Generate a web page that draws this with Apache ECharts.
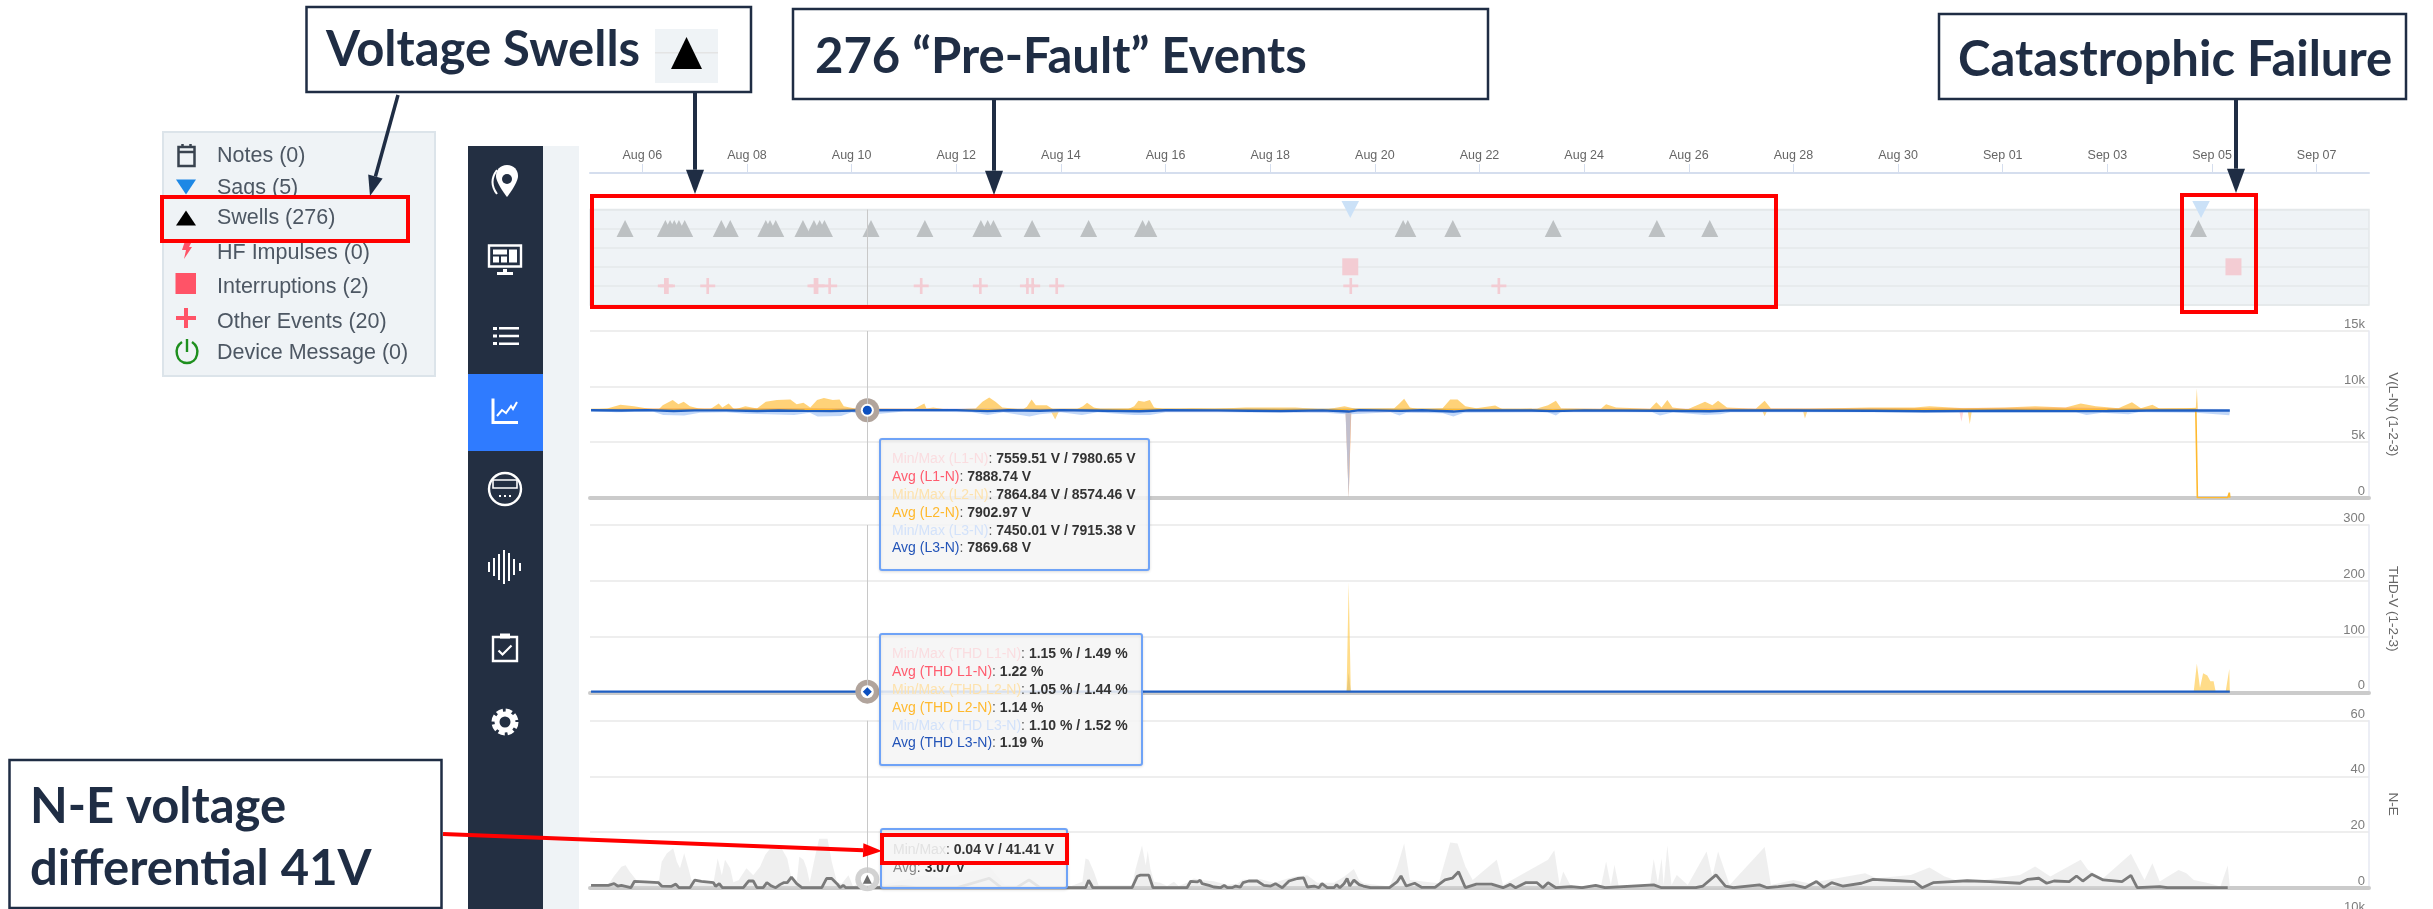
<!DOCTYPE html>
<html>
<head>
<meta charset="utf-8">
<title>Pre-fault events</title>
<style>
  html, body { margin: 0; padding: 0; background: #fff; }
  #main { width: 2433px; height: 909px; }
</style>
<script src="https://cdn.jsdelivr.net/npm/echarts@6/dist/echarts.min.js"></script>
</head>
<body>
<div id="main"></div>
<script>
// all x values are days counted from Aug 01 (Aug 32 = Sep 01)
var tickDays = [6, 8, 10, 12, 14, 16, 18, 20, 22, 24, 26, 28, 30, 32, 34, 36, 38];
var tickLabels = ["Aug 06", "Aug 08", "Aug 10", "Aug 12", "Aug 14", "Aug 16", "Aug 18", "Aug 20", "Aug 22",
  "Aug 24", "Aug 26", "Aug 28", "Aug 30", "Sep 01", "Sep 03", "Sep 05", "Sep 07"];
var cursorDay = 10.3;

// event rows: 0 sags, 1 swells, 2 HF impulses, 3 interruptions, 4 other
var sagDays = [19.53, 35.79];
var swellDays = [5.67, 6.44, 6.53, 6.61, 6.70, 6.81, 7.51, 7.68, 8.36, 8.44, 8.55, 9.07, 9.28, 9.39, 9.48, 10.37,
  11.40, 12.47, 12.60, 12.71, 13.45, 14.53, 15.56, 15.68, 20.54, 20.63, 21.49, 23.41, 25.39, 26.40, 35.74];
var interruptionDays = [19.53, 36.41];
var otherDays = [6.44, 6.48, 7.25, 9.30, 9.34, 9.58, 11.33, 12.46, 13.36, 13.46, 13.92, 19.54, 22.37];

// V(L-N)
var l2Max = [[5.02, 7940], [5.33, 8030], [5.58, 8360], [5.84, 8240], [6.10, 8030], [6.31, 7940], [6.39, 8330], [6.58, 8780],
  [6.69, 8420], [6.79, 8630], [6.91, 8240], [7.08, 8030], [7.29, 7940], [7.46, 8480], [7.53, 8120], [7.65, 8480], [7.76, 7940],
  [7.97, 8240], [8.19, 8030], [8.36, 8630], [8.57, 8780], [8.83, 8840], [8.95, 8420], [9.08, 8540], [9.21, 8120], [9.34, 8780],
  [9.47, 8960], [9.64, 8780], [9.77, 8840], [9.85, 8240], [10.06, 8030], [10.28, 7940], [10.79, 7940], [11.17, 7940], [11.39, 8480],
  [11.43, 8030], [11.56, 8120], [11.81, 7940], [12.37, 8030], [12.50, 8630], [12.63, 9020], [12.75, 8630], [12.88, 8120],
  [13.27, 7940], [13.35, 8180], [13.44, 8840], [13.52, 8330], [13.61, 8330], [13.73, 8330], [13.86, 7940], [14.29, 7940],
  [14.42, 8240], [14.50, 8540], [14.63, 8120], [14.80, 7940], [15.27, 7940], [15.40, 8240], [15.48, 8720], [15.59, 8630],
  [15.70, 8780], [15.78, 8120], [16.00, 7940], [16.51, 8030], [16.94, 8000], [17.53, 8120], [18.05, 8120], [18.48, 8120],
  [19.06, 7940], [19.42, 8240], [19.63, 8000], [20.36, 8000], [20.47, 8480], [20.56, 8900], [20.67, 8120], [20.86, 7940],
  [21.29, 8030], [21.44, 8840], [21.58, 8840], [21.73, 8240], [21.94, 8060], [22.30, 8300], [22.45, 7940], [23.10, 8030],
  [23.31, 8330], [23.46, 8720], [23.56, 8060], [24.32, 8000], [24.42, 8420], [24.61, 8120], [25.26, 8000], [25.38, 8600],
  [25.48, 8120], [25.59, 8780], [25.69, 8120], [25.98, 7970], [26.31, 8630], [26.45, 8330], [26.56, 8720], [26.73, 8120],
  [27.28, 8000], [27.45, 8720], [27.57, 8030], [28.29, 8000], [29.45, 8120], [30.31, 8120], [30.60, 8240], [31.25, 8060],
  [32.04, 8120], [32.62, 8240], [33.20, 8120], [33.49, 8480], [33.78, 8240], [34.21, 8060], [34.47, 8600], [34.64, 8060],
  [34.86, 8360], [35.00, 8000], [35.51, 8060], [35.69, 8100], [35.71, 9830], [35.73, 7880]];
var l2Min = [[5.02, 7850], [13.80, 7850], [13.89, 7040], [13.97, 7850], [19.44, 7800], [19.50, 0], [19.55, 7800], [27.40, 7850],
  [27.45, 7340], [27.50, 7850], [28.18, 7850], [28.22, 7130], [28.27, 7850], [31.33, 7850], [31.37, 6620], [31.41, 7850], [35.71, 7850]];
var l2Avg = [[5.02, 7930], [9.00, 7950], [12.00, 7920], [15.60, 7950], [19.00, 7940], [20.50, 7950], [23.00, 7930], [27.00, 7920],
  [30.00, 7950], [33.00, 7960], [35.69, 7950], [35.72, 0], [36.30, 0], [36.33, 450], [36.34, 0]];
var l3Max = [[5.02, 7950], [10.00, 8000], [15.00, 8000], [20.00, 8020], [25.00, 7990], [30.00, 8000], [36.34, 8000]];
var l3Min = [[5.02, 7800], [5.50, 7700], [6.20, 7750], [6.40, 7450], [6.80, 7400], [7.10, 7650], [7.60, 7700], [8.00, 7550], [8.40, 7500],
  [8.90, 7450], [9.20, 7650], [9.35, 7300], [9.80, 7350], [10.00, 7700], [10.29, 7450], [11.00, 7750], [12.30, 7700], [12.60, 7450],
  [12.90, 7700], [13.40, 7300], [13.60, 7500], [14.00, 7700], [14.40, 7450], [14.70, 7700], [15.40, 7450], [15.70, 7450], [16.00, 7700],
  [17.00, 7700], [19.06, 7650], [19.44, 7500], [19.50, 0], [19.54, 7500], [20.30, 7700], [20.47, 7400], [20.60, 7650], [21.30, 7600],
  [21.50, 7300], [21.70, 7650], [23.30, 7700], [23.46, 7400], [23.55, 7700], [25.30, 7700], [25.45, 7400], [25.70, 7700], [26.30, 7450],
  [26.60, 7500], [26.80, 7700], [29.00, 7700], [31.00, 7700], [33.40, 7700], [33.60, 7450], [33.90, 7650], [34.40, 7500], [34.60, 7700],
  [35.70, 7650], [36.33, 7420], [36.34, 7700]];
var l3Avg = [[5.02, 7870], [5.60, 7850], [6.10, 7880], [6.60, 7800], [7.00, 7860], [7.60, 7860], [8.20, 7800], [8.60, 7850], [9.10, 7810],
  [9.60, 7790], [10.29, 7870], [11.00, 7880], [12.00, 7880], [12.60, 7790], [13.00, 7870], [13.60, 7830], [14.00, 7880], [14.50, 7850],
  [15.50, 7780], [16.00, 7870], [17.00, 7860], [17.60, 7830], [18.20, 7800], [19.00, 7860], [19.50, 7750], [19.70, 7880], [20.50, 7810],
  [20.90, 7870], [21.50, 7750], [21.80, 7860], [23.00, 7850], [23.40, 7790], [24.00, 7860], [25.50, 7830], [26.40, 7780], [26.80, 7860],
  [28.00, 7850], [29.50, 7820], [30.50, 7780], [32.00, 7830], [33.50, 7790], [34.00, 7800], [34.50, 7830], [35.00, 7860], [36.34, 7840]];
var l1Min = [[5.02, 7820], [19.44, 7700], [19.50, 0], [19.55, 7700], [31.17, 7800], [31.21, 6830], [31.25, 7800], [36.34, 7800]];
var l1Max = [[5.02, 7950], [6.10, 8050], [8.80, 8060], [15.00, 7980], [22.00, 7990], [29.00, 8060], [33.40, 8120], [35.00, 8000], [36.34, 7950]];
var vCursor = 7869.68;

// THD-V
var thdL2Max = [[5.02, 1.5], [19.46, 1.5], [19.50, 198], [19.54, 1.5], [35.65, 1.5], [35.71, 51], [35.77, 8], [35.83, 34], [35.91, 30],
  [35.97, 20], [36.03, 20], [36.07, 1], [36.26, 1], [36.33, 42], [36.34, 1]];
var thdL3Max = [[5.02, 1.5], [19.46, 1.5], [19.50, 35], [19.54, 1.5], [36.34, 1.5]];
var thdL3Avg = [[5.02, 1.2], [10.29, 1.19], [19.50, 1.3], [28.00, 1.2], [36.34, 1.2]];
var thdCursor = 1.19;

// N-E
var neMax = [[5.02, 0.5], [5.35, 1.1], [5.45, 3.9], [5.60, 7.5], [5.68, 8.1], [5.76, 5.7], [5.89, 2.7], [6.02, 2.1], [6.21, 1.8], [6.32, 2.7], [6.37, 9.3],
  [6.47, 12.4], [6.59, 14.2], [6.66, 9.3], [6.72, 7], [6.80, 12.4], [6.88, 7], [6.94, 2.7], [7.36, 1.8], [7.44, 10.5], [7.52, 4.5], [7.58, 10], [7.68, 7],
  [7.74, 2], [7.84, 2.7], [7.99, 7], [8.12, 4.5], [8.25, 7.5], [8.35, 11.8], [8.44, 14], [8.66, 14.2], [8.77, 10.5], [8.85, 3.3], [8.95, 2], [9.00, 11.1],
  [9.08, 10], [9.14, 7], [9.20, 2], [9.30, 11.1], [9.38, 17.6], [9.54, 17.6], [9.62, 9.3], [9.72, 2], [9.81, 1.45], [9.94, 4.5], [10.03, 0.3], [10.29, 4],
  [10.40, 0.5], [10.57, 1], [11.41, 4.6], [11.71, 3.4], [12.63, 7.6], [12.93, 1], [14.15, 0.25], [14.41, 2.1], [14.47, 10.5], [14.53, 10], [14.63, 5.7],
  [14.72, 0.85], [15.36, 0.85], [15.43, 6.9], [15.55, 15.2], [15.62, 8.1], [15.66, 13.2], [15.71, 6.9], [15.78, 2.1], [15.90, 1.8], [16.03, 0.6], [16.16, 2.1],
  [16.25, 0.6], [16.41, 1.8], [16.54, 3.3], [16.73, 2.7], [16.92, 2.3], [17.18, 1.1], [17.37, 1.45], [17.47, 2.9], [17.82, 3], [18.07, 1.8], [18.45, 3.9],
  [18.71, 4.5], [18.90, 1.8], [19.22, 1.8], [19.41, 3.9], [19.60, 6.7], [19.70, 2.7], [19.78, 1.6], [20.28, 0.4], [20.43, 7.6], [20.56, 15.9], [20.67, 2.8],
  [21.22, 1.6], [21.44, 16.2], [21.58, 15.9], [21.73, 7.6], [21.87, 2.8], [22.33, 10], [22.45, 1], [23.31, 10], [23.43, 13.5], [23.53, 1], [23.60, 5.8],
  [23.75, 0.4], [24.32, 0.4], [24.42, 9.4], [24.51, 1], [24.58, 8.2], [24.66, 0.6], [25.26, 1], [25.33, 10.3], [25.41, 1.6], [25.48, 10.6], [25.52, 1],
  [25.59, 15.2], [25.67, 1], [25.77, 4.6], [25.98, 1], [26.34, 13], [26.45, 4], [26.56, 13], [26.78, 1], [27.45, 14.6], [27.57, 1], [28.00, 2.8], [28.29, 1.6],
  [29.37, 5.2], [29.59, 3.4], [30.24, 4.6], [30.60, 7.3], [30.89, 4], [31.25, 1.8], [32.33, 4.6], [32.62, 7.6], [32.91, 4], [33.49, 10], [33.63, 6.4], [33.92, 3.4],
  [34.45, 12.2], [34.61, 6.4], [34.71, 2.8], [34.86, 8.8], [35.00, 2.2], [35.36, 6.4], [35.51, 5.2], [35.65, 2.8], [35.94, 1.6], [36.16, 0.4],
  [36.30, 8], [36.34, 0.4]];
var neAvg = [[5.02, 0.85], [5.35, 0.85], [5.46, 1.45], [5.53, 0.6], [5.60, 0.85], [5.78, 0], [5.85, 2.3], [6.05, 2.1], [6.31, 1.8], [6.37, 0.6], [6.56, 0.5],
  [6.64, 1.3], [6.70, 0], [6.91, 0], [7.00, 2.7], [7.13, 2.3], [7.36, 1.8], [7.40, 0.5], [7.47, 1.45], [7.53, 0], [7.93, 0], [8.03, 2.4], [8.12, 2.4], [8.19, 0],
  [8.31, 0], [8.38, 1.8], [8.47, 0.6], [8.55, 0], [8.63, 1.1], [8.70, 1.8], [8.77, 1.8], [8.85, 3.8], [8.95, 1.45], [9.05, 0], [9.43, 0], [9.52, 3.3], [9.62, 3.3],
  [9.72, 1.45], [9.78, 0], [9.84, 0.85], [9.89, 0], [10.23, 0], [10.30, 3.07], [10.35, 0], [10.51, 0], [10.95, 0.4], [11.25, 0], [12.02, 0], [12.63, 3.4], [12.86, 0],
  [13.16, 0.1], [13.39, 2.8], [13.60, 0], [14.47, 0], [14.53, 2.7], [14.61, 0], [15.36, 0], [15.46, 4.1], [15.52, 4.5], [15.68, 4.5], [15.76, 0], [16.41, 0],
  [16.48, 2.3], [16.61, 2.1], [16.66, 2.7], [16.70, 1.45], [16.83, 0.85], [16.92, 0.25], [17.05, 0], [17.12, 0.85], [17.18, 0], [17.27, 0], [17.34, 0.6], [17.43, 0.25],
  [17.48, 1.8], [17.59, 2.4], [17.75, 2.4], [17.88, 0.85], [18.01, 0.6], [18.10, 1.45], [18.23, 0], [18.36, 2.4], [18.52, 3.3], [18.64, 3.5], [18.71, 0.25],
  [18.84, 0.6], [18.93, 0], [18.99, 1.45], [19.09, 0], [19.22, 0], [19.27, 1.1], [19.33, 0], [19.41, 1.45], [19.47, 3.3], [19.52, 0.6], [19.60, 2.7], [19.70, 1.1],
  [19.78, 0.6], [19.92, 0], [20.28, 0], [20.43, 2.2], [20.50, 4.2], [20.60, 0.6], [20.76, 1.6], [20.90, 0.1], [21.15, 0.1], [21.34, 2.8], [21.48, 3.4], [21.60, 5.7],
  [21.73, 0], [21.94, 1.3], [22.23, 1.3], [22.45, 0], [22.59, 1.2], [22.69, 0], [22.88, 1.8], [23.10, 1.8], [23.21, 0], [23.31, 1.8], [23.46, 0], [23.75, 0.4],
  [23.96, 0], [24.22, 0.8], [24.40, 0], [25.33, 1], [25.48, 0], [26.13, 0], [26.27, 0.6], [26.52, 4.6], [26.70, 0.6], [26.85, 0], [27.35, 1], [27.50, 0],
  [27.71, 0.4], [28.00, 1], [28.22, 0], [28.44, 2.2], [28.58, 0.1], [28.73, 1.8], [28.94, 0.6], [29.30, 1.6], [29.52, 3], [30.02, 2.5], [30.31, 2.2], [30.46, 0],
  [30.67, 1.8], [31.03, 2.2], [31.32, 2.5], [31.76, 2.2], [32.33, 1.6], [32.48, 3], [32.69, 3.4], [32.84, 1.6], [32.98, 2.4], [33.27, 2.2], [33.41, 4.2],
  [33.53, 2.4], [33.70, 4.8], [33.92, 2.8], [34.28, 2.2], [34.45, 4.4], [34.57, 0], [35.00, 0.4], [35.15, 0], [36.30, 0]];
var neCursor = 3.07;

var vTicks = { name: "V(L-N) (1-2-3)", max: 15000, step: 5000 };
var thdTicks = { name: "THD-V (1-2-3)", max: 300, step: 100 };
var neTicks = { name: "N-E", max: 60, step: 20 };

var legendNames = ["Notes (0)", "Sags (5)", "Swells (276)", "HF Impulses (0)", "Interruptions (2)", "Other Events (20)", "Device Message (0)"];
var vTipRows = [
  ["Min/Max (L1-N)", "7559.51 V / 7980.65 V", "#fadde0"], ["Avg (L1-N)", "7888.74 V", "#ff5b6e"],
  ["Min/Max (L2-N)", "7864.84 V / 8574.46 V", "#fde2ad"], ["Avg (L2-N)", "7902.97 V", "#ffb92e"],
  ["Min/Max (L3-N)", "7450.01 V / 7915.38 V", "#d3e2fa"], ["Avg (L3-N)", "7869.68 V", "#2354b8"]
];
var thdTipRows = [
  ["Min/Max (THD L1-N)", "1.15 % / 1.49 %", "#fadde0"], ["Avg (THD L1-N)", "1.22 %", "#ff5b6e"],
  ["Min/Max (THD L2-N)", "1.05 % / 1.44 %", "#fde2ad"], ["Avg (THD L2-N)", "1.14 %", "#ffb92e"],
  ["Min/Max (THD L3-N)", "1.10 % / 1.52 %", "#d3e2fa"], ["Avg (THD L3-N)", "1.19 %", "#2354b8"]
];
var neTipRows = [["Min/Max", "0.04 V / 41.41 V", "#e2e2e2"], ["Avg", "3.07 V", "#8a8a8a"]];

var row = function (days, r) { return days.map(function (d) { return [d, r]; }); };
var UI_FONT = "'Liberation Sans', Arial, sans-serif";
var NAVY = "#1f2d44";
var RED = "#ff0000";
var PANEL = "#eff3f6";

function xAxisFor(i) {
  return {
    type: "value", gridIndex: i, min: 5, max: 39, splitLine: { show: false },
    axisLabel: { show: false }, axisTick: { show: false },
    axisLine: { show: true, onZero: false, lineStyle: { color: "#cbcbcb", width: 4 } }
  };
}
function yAxisFor(i, t) {
  return {
    type: "value", gridIndex: i, position: "right", min: 0, max: t.max, interval: t.step,
    name: t.name, nameLocation: "middle", nameRotate: -90, nameGap: 17,
    nameTextStyle: { color: "#666", fontSize: 13.5, fontFamily: UI_FONT },
    axisLine: { show: true, onZero: false, lineStyle: { color: "#e6e9f2", width: 1.5 } },
    axisTick: { show: false },
    splitLine: { lineStyle: { color: "#e9e9e9", width: 1.5 } },
    axisLabel: {
      inside: true, margin: 4, verticalAlign: "bottom", color: "#7d7d7d", fontSize: 13, fontFamily: UI_FONT,
      formatter: function (v) { return v >= 1000 ? v / 1000 + "k" : "" + v; }
    }
  };
}
// min/max band: filled towards a fixed level near the average
function band(name, i, data, color, level, op) {
  return {
    name: name, type: "line", xAxisIndex: i, yAxisIndex: i, data: data, showSymbol: false, silent: true,
    lineStyle: { width: 0 }, areaStyle: { color: color, opacity: op, origin: level }, z: 2
  };
}
function avgLine(name, i, data, color, width, extra) {
  return Object.assign({
    name: name, type: "line", xAxisIndex: i, yAxisIndex: i, data: data, showSymbol: false, silent: true,
    lineStyle: { color: color, width: width }, z: 3
  }, extra || {});
}
function cursorLine() {
  return { silent: true, symbol: "none", label: { show: false }, lineStyle: { color: "#c8c8c8", width: 1, type: "solid" }, data: [{ xAxis: cursorDay }] };
}
function events(name, days, r, symbol, size, color, extra) {
  return Object.assign({
    name: name, type: "scatter", xAxisIndex: 0, yAxisIndex: 0, data: row(days, r), symbol: symbol, symbolSize: size,
    itemStyle: { color: color, opacity: 1 }, silent: true, z: 3
  }, extra || {});
}
function cursorDot(i, v, symbol, color, halo) {
  var mk = function (sym, size, c, z) {
    return { type: "scatter", xAxisIndex: i, yAxisIndex: i, data: [[cursorDay, v]], symbol: sym, symbolSize: size, itemStyle: { color: c, opacity: 1 }, silent: true, z: z };
  };
  return [mk("circle", 24, halo, 4), mk("circle", 13, "#ffffff", 5), mk(symbol, 9, color, 6)];
}

/* ---- overlay drawn with graphic: callouts, legend panel, sidebar, tooltip boxes ---- */
var g = [];
var shapeCount = 0;
function rect(x, y, w, h, fill, stroke, lw) {
  g.push({ type: "rect", shape: { x: x, y: y, width: w, height: h }, style: { fill: fill || "none", stroke: stroke || null, lineWidth: lw || 0 } });
}
function text(x, y, str, font, color, align) {
  g.push({ type: "text", x: x, y: y, style: { text: str, font: font, fill: color, align: align || "left", verticalAlign: "middle" } });
}
// the graphic component has no plain "path" type, so each icon gets its own registered shape
function shape(cx, cy, w, h, d, style) {
  var name = "icon" + (shapeCount++);
  echarts.graphic.registerShape(name, echarts.graphic.extendPath(d, {}));
  g.push({ type: name, x: cx - w / 2, y: cy - h / 2, style: style });
}
function arrow(x1, y1, x2, y2, color, lw, head) {
  var a = Math.atan2(y2 - y1, x2 - x1), hl = head * 1.35;
  var bx = x2 - Math.cos(a) * hl, by = y2 - Math.sin(a) * hl;
  g.push({ type: "line", shape: { x1: x1, y1: y1, x2: bx, y2: by }, style: { stroke: color, lineWidth: lw } });
  g.push({ type: "polygon", shape: { points: [[x2, y2],
    [bx - Math.sin(a) * head / 2 * 1, by + Math.cos(a) * head / 2],
    [bx + Math.sin(a) * head / 2 * 1, by - Math.cos(a) * head / 2]] }, style: { fill: color } });
}
function tipBox(x, y, w, h, rows, rowYs) {
  g.push({ type: "rect", shape: { x: x, y: y, width: w, height: h, r: 2 },
    style: { fill: "rgba(249,249,249,0.85)", stroke: "#6fa3f7", lineWidth: 2, shadowBlur: 3, shadowColor: "rgba(0,0,0,0.12)", shadowOffsetY: 1 } });
  rows.forEach(function (r, i) {
    g.push({ type: "text", x: x + 12, y: rowYs[i], style: {
      text: "{a|" + r[0] + "}{b|: }{c|" + r[1] + "}", verticalAlign: "middle",
      rich: {
        a: { fill: r[2], font: "14px " + UI_FONT },
        b: { fill: "#555", font: "14px " + UI_FONT },
        c: { fill: "#333", font: "bold 14px " + UI_FONT }
      } } });
  });
}

// light strip + sidebar
rect(543, 146, 36, 763, PANEL);
rect(468, 146, 75, 763, "#232f42");
rect(468, 374, 75, 77, "#2f7bff");
var W = { fill: "#ffffff" };
var WS = { fill: "none", stroke: "#ffffff", lineWidth: 2.4 };
shape(507, 181, 22, 32, "M11 0 C4 0 0 5 0 11 C0 18 11 32 11 32 C11 32 22 18 22 11 C22 5 18 0 11 0 Z", W);
g.push({ type: "circle", shape: { cx: 507, cy: 179, r: 5 }, style: { fill: "#232f42" } });
shape(494, 182, 6, 24, "M6 0 C0 8 0 16 6 24", { fill: "none", stroke: "#fff", lineWidth: 2 });
shape(505, 256, 32, 21, "M0 0 H32 V21 H0 Z", WS);
shape(505, 256, 24, 13, "M0 0 H14 V5 H0 Z M0 7 H6 V13 H0 Z M8 7 H14 V13 H8 Z M16 0 H24 V13 H16 Z", W);
shape(505, 272, 16, 6, "M6 0 H10 V3 H16 V6 H0 V3 H6 Z", W);
shape(509, 336, 20, 18, "M0 0 H20 V2.4 H0 Z M0 7.8 H20 V10.2 H0 Z M0 15.6 H20 V18 H0 Z", W);
shape(495, 336, 4, 18, "M0 0 H4 V3 H0 Z M0 7.5 H4 V10.5 H0 Z M0 15 H4 V18 H0 Z", W);
shape(505, 411, 26, 25, "M1 0 V24 H26", { fill: "none", stroke: "#fff", lineWidth: 3 });
shape(507, 409, 20, 14, "M0 14 L5 8 L9 11 L14 4 L16 7 L20 0", { fill: "none", stroke: "#fff", lineWidth: 2 });
g.push({ type: "ellipse", shape: { cx: 505, cy: 489, rx: 16, ry: 16 }, style: WS });
shape(505, 484, 24, 8, "M0 0 H24 V8 H0 Z", { fill: "none", stroke: "#fff", lineWidth: 1.6 });
shape(505, 496, 12, 2, "M0 0 H2 V2 H0 Z M5 0 H7 V2 H5 Z M10 0 H12 V2 H10 Z", W);
shape(505, 567, 32, 34, "M0 12 V22 M5 8 V26 M10 4 V30 M15 0 V34 M20 3 V31 M25 9 V25 M31 13 V21", { fill: "none", stroke: "#fff", lineWidth: 2 });
shape(505, 649, 24, 24, "M0 0 H24 V24 H0 Z", WS);
shape(505, 636, 10, 5, "M0 0 H10 V5 H0 Z", W);
shape(505, 650, 13, 9, "M0 5 L4 9 L13 0", { fill: "none", stroke: "#fff", lineWidth: 2.2 });
g.push({ type: "circle", shape: { cx: 505, cy: 722, r: 10 }, style: { fill: "none", stroke: "#fff", lineWidth: 7, lineDash: [5.5, 2.4] } });
g.push({ type: "circle", shape: { cx: 505, cy: 722, r: 8 }, style: { fill: "none", stroke: "#fff", lineWidth: 5 } });

// legend panel
rect(163, 132, 272, 244, PANEL, "#dce4ea", 2);
var legendYs = [156, 188, 218, 253, 287, 322, 353];
legendNames.forEach(function (n, i) { text(217, legendYs[i], n, "21.5px " + UI_FONT, "#4d5763"); });
shape(186.5, 155, 16, 22, "M0 3 H16 V22 H0 Z M0 8 H16 M4 0 V3 M12 0 V3", { fill: "none", stroke: "#39434f", lineWidth: 2.5 });
shape(186, 187, 20, 15, "M0 0 H20 L10 15 Z", { fill: "#1e88e5" });
shape(186, 218, 20, 15, "M10 0 L20 15 H0 Z", { fill: "#000" });
shape(186, 250, 12, 18, "M5 0 H12 L9 6 H12 L4 18 L6 9 H2 Z", { fill: "#ff5367" });
rect(175.5, 273, 20.5, 21, "#ff5367");
shape(186, 318, 20, 20, "M8 0 H12 V8 H20 V12 H12 V20 H8 V12 H0 V8 H8 Z", { fill: "#ff5367" });
shape(187, 351, 22, 24, "M6 3 C-3 9 0 24 11 24 C22 24 25 9 16 3 M11 0 V13", { fill: "none", stroke: "#1e8f1e", lineWidth: 2.4 });

// tooltips
tipBox(880, 439, 269, 131, vTipRows, [459, 477, 495, 513, 531, 548]);
tipBox(880, 634, 262, 131, thdTipRows, [654, 672, 690, 708, 726, 743]);
tipBox(881, 829, 186, 59, neTipRows, [850, 868]);
text(2365, 907, "10k", "13px " + UI_FONT, "#7d7d7d", "right");

// red highlight frames
rect(162, 197, 246, 44, "none", RED, 4);
rect(592, 196, 1184, 111, "none", RED, 4);
rect(2182, 195, 74, 117, "none", RED, 4);
rect(882, 835, 185, 28, "none", RED, 4);

// callout boxes
var CALLOUT = "bold 49px Lato, 'Open Sans', sans-serif";
rect(306.5, 7, 444.5, 85, "#fff", NAVY, 2.5);
text(326, 50, "Voltage Swells", CALLOUT, NAVY);
rect(655, 29, 63, 54, PANEL);
rect(655, 52, 63, 1.5, "#e4e4e4");
shape(686.5, 53, 31, 32, "M15.5 0 L31 32 H0 Z", { fill: "#000" });
rect(793, 9, 695, 90, "#fff", NAVY, 2.5);
text(815, 57, "276 “Pre-Fault” Events", CALLOUT, NAVY);
rect(1939, 14, 467, 85, "#fff", NAVY, 2.5);
text(1958, 60, "Catastrophic Failure", CALLOUT, NAVY);
rect(9.5, 760, 432, 148, "#fff", NAVY, 2.5);
text(30, 807, "N-E voltage", CALLOUT, NAVY);
text(30, 869, "differential 41V", CALLOUT, NAVY);

// arrows
arrow(398, 95, 370, 196, NAVY, 3.5, 15);
arrow(695, 92, 695, 194, NAVY, 4, 18);
arrow(994, 99, 994, 195, NAVY, 4, 18);
arrow(2236, 99, 2236, 193, NAVY, 4, 18);
arrow(443, 834, 882, 851, RED, 4, 14);

g.forEach(function (el, i) { el.z = 100 + i; el.silent = true; });

var series = [
  events("Sags", sagDays, 0, "triangle", [17.5, 17], "#cbe1f7", { symbolRotate: 180, markLine: cursorLine() }),
  events("Swells", swellDays, 1, "triangle", [17, 17], "#bdc1c3"),
  events("Interruptions", interruptionDays, 3, "rect", [16, 17], "#f3ccd3"),
  events("Other Events", otherDays, 4, "path://M7 0H10V7H17V10H10V17H7V10H0V7H7Z", [15, 16], "#f3ccd3"),

  band("Max (L2-N)", 1, l2Max, "#ffbf3f", 7880, 0.7),
  band("Min (L2-N)", 1, l2Min, "#ffbf3f", 7880, 0.6),
  band("Min (L1-N)", 1, l1Min, "#ff5b6e", 7880, 0.25),
  band("Max (L1-N)", 1, l1Max, "#ff5b6e", 7880, 0.25),
  band("Max (L3-N)", 1, l3Max, "#9fc2f5", 7880, 0.65),
  band("Min (L3-N)", 1, l3Min, "#9fc2f5", 7880, 0.65),
  avgLine("Avg (L2-N)", 1, l2Avg, "#ffb92e", 1.6),
  avgLine("Avg (L3-N)", 1, l3Avg, "#1f5fc4", 2.4, { markLine: cursorLine() }),

  band("Max (THD L3-N)", 2, thdL3Max, "#9aa0a6", 0, 0.5),
  band("Max (THD L2-N)", 2, thdL2Max, "#ffc640", 0, 0.62),
  avgLine("Avg (THD L3-N)", 2, thdL3Avg, "#1f5fc4", 2.4, { markLine: cursorLine() }),

  band("Max (N-E)", 3, neMax, "#dcdcdc", 0, 0.45),
  avgLine("Avg (N-E)", 3, neAvg, "#7a7a7a", 2.8, { markLine: cursorLine() })
].concat(cursorDot(1, vCursor, "circle", "#0b4fc0", "#b1a49c"), cursorDot(2, thdCursor, "diamond", "#0b4fc0", "#b1a49c"), cursorDot(3, neCursor, "triangle", "#6d6d6d", "#d2d2d2"));

var topAxis = xAxisFor(0);
topAxis.position = "top";
topAxis.offset = 36.5;
topAxis.axisLine = { show: true, onZero: false, lineStyle: { color: "#d5deee", width: 2 } };
topAxis.axisTick = { show: true, length: 9, lineStyle: { color: "#d5deee", width: 1 }, customValues: tickDays };
topAxis.axisLabel = {
  show: true, margin: 11, color: "#666", fontSize: 12.5, fontFamily: UI_FONT, customValues: tickDays,
  formatter: function (v) { return tickLabels[tickDays.indexOf(v)]; }
};

var myChart = echarts.init(document.getElementById("main"));
myChart.setOption({
  animation: false,
  backgroundColor: "#fff",
  grid: [
    { left: 590, width: 1779, top: 209.5, height: 95.5, show: true, backgroundColor: PANEL, borderColor: "#e4e8ea", borderWidth: 1.5 },
    { left: 590, width: 1779, top: 331, height: 166.7 },
    { left: 590, width: 1779, top: 525, height: 167.3 },
    { left: 590, width: 1779, top: 720.7, height: 167 }
  ],
  xAxis: [topAxis, xAxisFor(1), xAxisFor(2), xAxisFor(3)],
  yAxis: [
    { type: "value", gridIndex: 0, min: 0, max: 5, interval: 1, inverse: true, axisLabel: { show: false }, axisLine: { show: false }, axisTick: { show: false },
      splitLine: { lineStyle: { color: "#e4e8ea", width: 1.5 } } },
    yAxisFor(1, vTicks), yAxisFor(2, thdTicks), yAxisFor(3, neTicks)
  ],
  series: series,
  graphic: { elements: g }
});
</script>
</body>
</html>
